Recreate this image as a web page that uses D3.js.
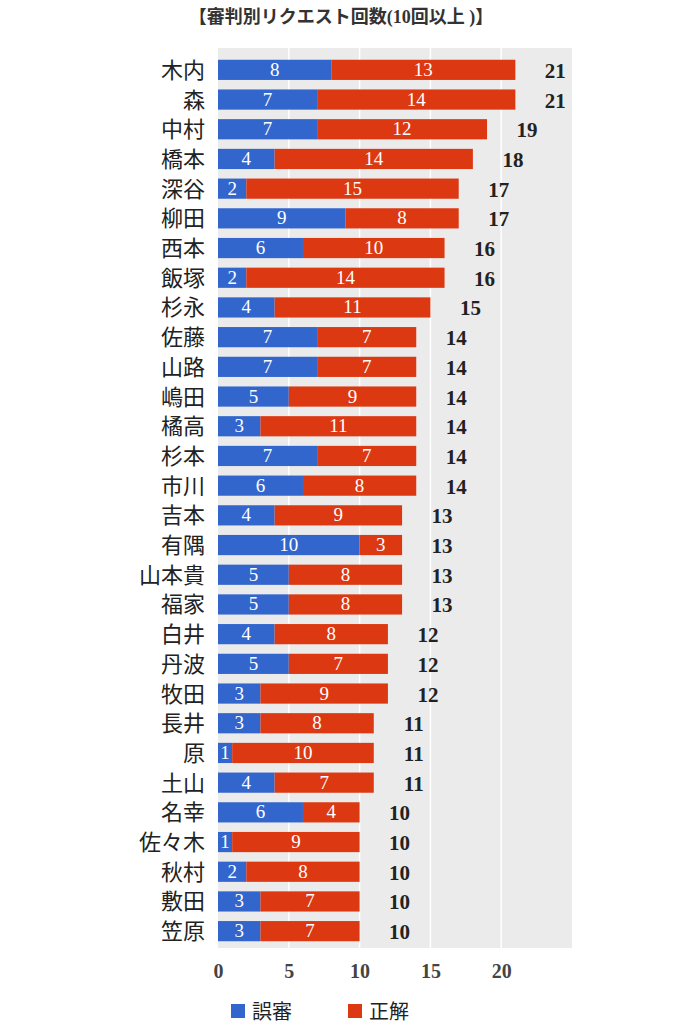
<!DOCTYPE html>
<html><head><meta charset="utf-8">
<script src="https://cdn.jsdelivr.net/npm/d3@7"></script>
<style>body{margin:0;background:#fff}</style>
</head><body>
<svg id="chart" width="683" height="1024"></svg>
<script>
var names = ["木内","森","中村","橋本","深谷","柳田","西本","飯塚","杉永","佐藤","山路","嶋田","橘高","杉本","市川","吉本","有隅","山本貴","福家","白井","丹波","牧田","長井","原","土山","名幸","佐々木","秋村","敷田","笠原"];
var wrong = [8,7,7,4,2,9,6,2,4,7,7,5,3,7,6,4,10,5,5,4,5,3,3,1,4,6,1,2,3,3];
var right = [13,14,12,14,15,8,10,14,11,7,7,9,11,7,8,9,3,8,8,8,7,9,8,10,7,4,9,8,7,7];
var ticks = [0,5,10,15,20];
var title = "【審判別リクエスト回数(10回以上 )】";

var font = "'Liberation Serif', 'Noto Sans CJK JP', serif";
var svg = d3.select("#chart");
var x = d3.scaleLinear().domain([0,25]).range([218,572]);
var y = d3.scaleBand().domain(names).range([55,946]).paddingInner(0.32).paddingOuter(0.16);

svg.append("text").attr("x",341).attr("y",23).attr("text-anchor","middle")
  .attr("font-family",font).attr("font-size",18).attr("font-weight","bold").attr("fill","#333").text(title);

svg.append("rect").attr("x",x(0)).attr("y",48).attr("width",x(25)-x(0)).attr("height",900).attr("fill","#ebebeb");
svg.selectAll(".grid").data(ticks.slice(1)).enter().append("line")
  .attr("x1",d=>x(d)).attr("x2",d=>x(d)).attr("y1",48).attr("y2",948)
  .attr("stroke","#fff").attr("stroke-width",1.5);

var rows = svg.selectAll(".row").data(names).enter().append("g")
  .attr("transform",d=>"translate(0,"+y(d)+")");
var h = y.bandwidth();
rows.append("rect").attr("x",x(0)).attr("width",(d,i)=>x(wrong[i])-x(0)).attr("height",h).attr("fill","#3366cc");
rows.append("rect").attr("x",(d,i)=>x(wrong[i])).attr("width",(d,i)=>x(wrong[i]+right[i])-x(wrong[i])).attr("height",h).attr("fill","#dc3912");
rows.append("text").attr("x",(d,i)=>x(wrong[i]/2)).attr("y",h/2+6).attr("text-anchor","middle")
  .attr("font-family",font).attr("font-size",19).attr("fill","#fff").text((d,i)=>wrong[i]);
rows.append("text").attr("x",(d,i)=>x(wrong[i]+right[i]/2)).attr("y",h/2+6).attr("text-anchor","middle")
  .attr("font-family",font).attr("font-size",19).attr("fill","#fff").text((d,i)=>right[i]);
rows.append("text").attr("x",(d,i)=>x(wrong[i]+right[i])+40).attr("y",h/2+8).attr("text-anchor","middle")
  .attr("font-family",font).attr("font-size",21).attr("font-weight","bold").attr("fill","#222").text((d,i)=>wrong[i]+right[i]);
rows.append("text").attr("x",205).attr("y",h/2+8).attr("text-anchor","end")
  .attr("font-family",font).attr("font-size",22).attr("fill","#222").text(d=>d);

var ax = svg.append("g").attr("transform","translate(0,948)").call(d3.axisBottom(x).tickValues(ticks).tickSize(0).tickPadding(16));
ax.select(".domain").remove();
ax.selectAll("text").attr("font-family",font).attr("font-size",20).attr("font-weight","bold").attr("fill","#444");

var leg = [["誤審","#3366cc",238],["正解","#dc3912",355]];
leg.forEach(function(l){
  svg.append("rect").attr("x",l[2]-7).attr("y",1004).attr("width",14).attr("height",14).attr("fill",l[1]);
  svg.append("text").attr("x",l[2]+14).attr("y",1019).attr("font-family",font).attr("font-size",20).attr("fill","#222").text(l[0]);
});
</script>
</body></html>
